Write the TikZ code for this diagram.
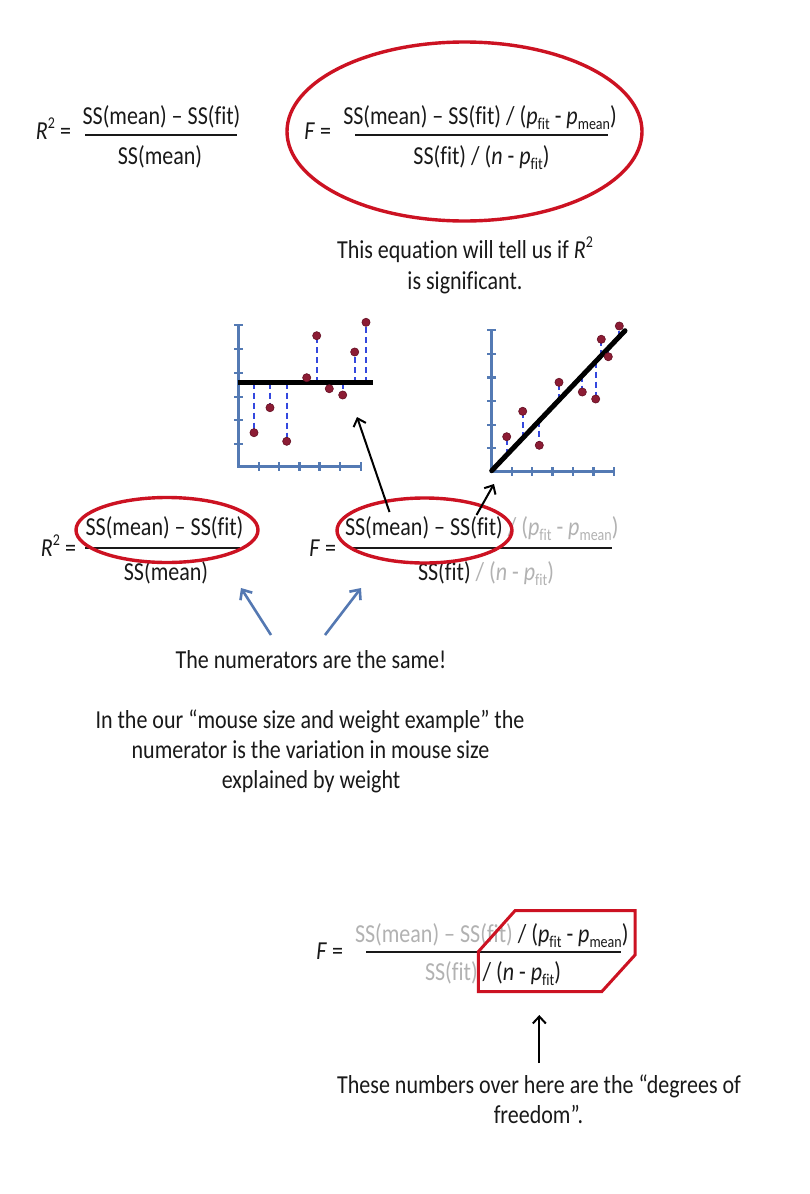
\documentclass[tikz,border=0pt]{standalone}
\usepackage{fontspec}
\setmainfont{Carlito}[FakeStretch=0.85,RawFeature=-liga]
\usetikzlibrary{arrows.meta,shapes.geometric}
\definecolor{ered}{RGB}{204,18,34}
\definecolor{axblue}{RGB}{84,122,180}
\definecolor{dashblue}{RGB}{52,72,222}
\definecolor{dotred}{RGB}{140,28,52}
\definecolor{dotedge}{RGB}{100,15,35}
\definecolor{lgray}{RGB}{178,178,178}
\definecolor{arrblue}{RGB}{84,120,178}
\definecolor{ink}{RGB}{25,25,25}
\newcommand\myfit{f\kern0pt it}
\newcommand\mysub[1]{\raisebox{-0.2em}{\fontsize{16.5}{16.5}\selectfont #1}}
\newcommand\mysup[1]{\raisebox{0.42em}{\fontsize{16.5}{16.5}\selectfont #1}}
\begin{document}
\begin{tikzpicture}[x=1pt,y=-1pt,
  every node/.style={inner sep=0pt,outer sep=0pt,text=ink,font=\fontsize{25.9}{30}\selectfont},
  fracbar/.style={line width=2.4pt,draw=ink},
  ring/.style={draw=ered,ellipse,line width=3.4pt},
  axisline/.style={draw=axblue,line width=2.6pt},
  tick/.style={draw=axblue,line width=2.4pt},
  resid/.style={draw=dashblue,line width=2.2pt,dash pattern=on 6pt off 4pt},
  fitline/.style={line width=5pt,black},
  datadot/.style={fill=dotred,draw=dotedge,line width=0.6pt},
  blackarrow/.style={line width=2pt,-{Straight Barb[length=7pt,width=13pt]}},
  bluearrow/.style={draw=arrblue,line width=2.6pt,-{Straight Barb[length=8pt,width=14pt]}}
]
\useasboundingbox (0,0) rectangle (810,1194);
\fill[white] (0,0) rectangle (810,1194);

% ---------- top equations ----------
\node[anchor=base east] (r2top) at (71,139) {\textit{R}\mysup{2} =};
\node[anchor=base] (r2topnum) at (161.5,124) {SS(mean) – SS(\myfit)};
\draw[fracbar] (85,135) -- (237,135);
\node[anchor=base] (r2topden) at (160,164) {SS(mean)};

\node[anchor=base east] (ftop) at (331,139) {\textit{F} =};
\node[anchor=base] (ftopnum) at (480,124) {SS(mean) – SS(\myfit) / (\textit{p}\mysub{\myfit} - \textit{p}\mysub{mean})};
\draw[fracbar] (355,135) -- (608,135);
\node[anchor=base] (ftopden) at (481.5,164) {SS(\myfit) / (\textit{n} - \textit{p}\mysub{\myfit})};
\node[ring,minimum width=355pt,minimum height=179pt] (ftopring) at (464.5,131.5) {};

\node[anchor=base] (sig1) at (465,258) {This equation will tell us if \textit{R}\mysup{2}};
\node[anchor=base] (sig2) at (465,289) {is significant.};

% ---------- left graph (mean) ----------
\foreach \xx/\yy in {254/432.7,270/407.7,286.7/441.3,316.7/335.7,342.7/395,354.7/352,366/322.3}
  \draw[resid] (\xx,382.7) -- (\xx,\yy);
\draw[axisline] (238.3,325) -- (238.3,466.7) -- (361,466.7);
\foreach \yy in {325,349,372.7,396.7,420,444}
  \draw[tick] (234,\yy) -- (243,\yy);
\foreach \xx in {259,279,299.3,319.3,340,361}
  \draw[tick] (\xx,462.3) -- (\xx,471.3);
\coordinate (meanL) at (237.7,382.7);
\coordinate (meanR) at (372.7,382.7);
\draw[fitline] (meanL) -- (meanR);
\foreach \xx/\yy in {254/432.7,270/407.7,286.7/441.3,306.7/377.7,316.7/335.7,329.3/388.7,342.7/395,354.7/352,366/322.3}
  \filldraw[datadot] (\xx,\yy) circle (4.1);

% ---------- right graph (fit) ----------
\foreach \xx/\yy/\zz in {506.7/436.7/455,522.7/411.3/438.1,539.3/445.3/420.7,559/382.3/400,582.3/392/375.5,595.7/399/361.5,601.3/339.3/355.6,608.3/356.7/348.2,619.3/326/336.7}
  \draw[resid] (\xx,\zz) -- (\xx,\yy);
\draw[axisline] (491.7,330) -- (491.7,471.7) -- (614,471.7);
\foreach \yy in {330,354,377.3,400.7,425,447.7}
  \draw[tick] (487.2,\yy) -- (496.2,\yy);
\foreach \xx in {511.7,531.7,552.3,572.7,593.3,614}
  \draw[tick] (\xx,467.2) -- (\xx,476.2);
\coordinate (fitA) at (491.7,470.7);
\coordinate (fitB) at (625,330.7);
\draw[fitline,line cap=round] (fitA) -- (fitB);
\foreach \xx/\yy in {506.7/436.7,522.7/411.3,539.3/445.3,559/382.3,582.3/392,595.7/399,601.3/339.3,608.3/356.7,619.3/326}
  \filldraw[datadot] (\xx,\yy) circle (4.1);

% ---------- middle equations ----------
\node[anchor=base east] (r2mid) at (76,556) {\textit{R}\mysup{2} =};
\node[anchor=base] (r2midnum) at (164.5,535) {SS(mean) – SS(\myfit)};
\draw[fracbar] (85,548) -- (240,548);
\node[anchor=base] (r2midden) at (166,580) {SS(mean)};
\node[ring,minimum width=182pt,minimum height=65pt] (ringL) at (167,530) {};

\node[anchor=base east] (fmid) at (336,556) {\textit{F} =};
\node[anchor=base west] (fmidnum) at (345,535) {SS(mean) – SS(\myfit)\textcolor{lgray}{\ / (\textit{p}\mysub{\myfit} - \textit{p}\mysub{mean})}};
\draw[fracbar] (350,548) -- (612,548);
\node[anchor=base west] (fmidden) at (418,580) {SS(\myfit)\textcolor{lgray}{\ / (\textit{n} - \textit{p}\mysub{\myfit})}};
\node[ring,minimum width=175pt,minimum height=65pt] (ringR) at (424.5,530.5) {};

\coordinate (a1tail) at (389.5,512);
\coordinate (a1head) at (357,417);
\coordinate (a2tail) at (476.5,515);
\coordinate (a2head) at (494,484);
\draw[blackarrow] (a1tail) -- (a1head);
\draw[blackarrow] (a2tail) -- (a2head);

\coordinate (b1tail) at (271,635);
\coordinate (b1head) at (241,588);
\coordinate (b2tail) at (325,635);
\coordinate (b2head) at (361,588);
\draw[bluearrow] (b1tail) -- (b1head);
\draw[bluearrow] (b2tail) -- (b2head);

\node[anchor=base] (same) at (311,668) {The numerators are the same!};
\node[anchor=base] (para1) at (310,728) {In the our “mouse size and weight example” the};
\node[anchor=base] (para2) at (310.5,758) {numerator is the variation in mouse size};
\node[anchor=base] (para3) at (311,788) {explained by weight};

% ---------- bottom equation ----------
\node[anchor=base east] (fbot) at (343,959) {\textit{F} =};
\node[anchor=base west] (fbotnum) at (355,942) {\textcolor{lgray}{SS(mean) – SS(\myfit)} / (\textit{p}\mysub{\myfit} - \textit{p}\mysub{mean})};
\draw[fracbar] (366,952) -- (621,952);
\node[anchor=base west] (fbotden) at (425,980) {\textcolor{lgray}{SS(\myfit)} / (\textit{n} - \textit{p}\mysub{\myfit})};
\draw[draw=ered,line width=3pt,line join=miter]
  (478.3,951.7) -- (515,910.7) -- (635,910.7) -- (635,955) -- (601.7,991.7) -- (478.3,991.7) -- cycle;
\coordinate (dftail) at (539.3,1063);
\coordinate (dfhead) at (539.3,1015);
\draw[blackarrow] (dftail) -- (dfhead);
\node[anchor=base] (dof1) at (539,1093) {These numbers over here are the “degrees of};
\node[anchor=base] (dof2) at (538.5,1123) {freedom”.};
\end{tikzpicture}
\end{document}
